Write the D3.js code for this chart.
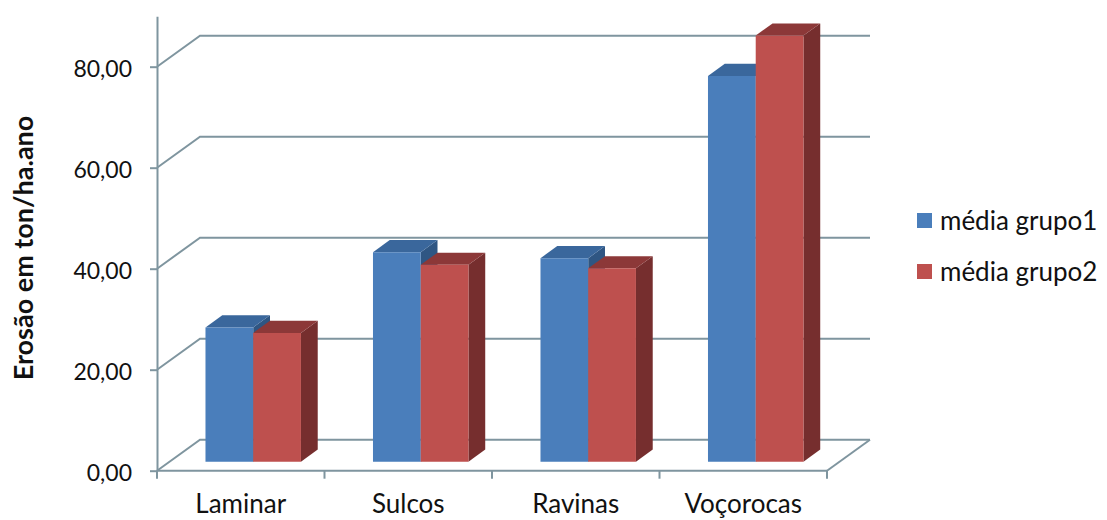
<!DOCTYPE html>
<html>
<head>
<meta charset="utf-8">
<script src="https://cdn.jsdelivr.net/npm/d3@7"></script>
<style>
  html, body { margin: 0; padding: 0; background: #ffffff; }
  svg { display: block; }
  text { font-family: Lato, "Open Sans", sans-serif; fill: #111; }
</style>
</head>
<body>
<svg id="chart" width="1107" height="520"></svg>
<script>
// Erosion averages per erosion type, two groups
const categories = ["Laminar", "Sulcos", "Ravinas", "Voçorocas"];
const seriesNames = ["média grupo1", "média grupo2"];
const grupo1 = [26.6, 41.5, 40.3, 76.4];
const grupo2 = [25.5, 39.0, 38.3, 84.4];
const yTicks = [0, 20, 40, 60, 80];
const yTitle = "Erosão em ton/ha.ano";

const seriesValues = [grupo1, grupo2];
const faceColors = [
  { front: "#4a7ebb", top: "#3a679c", side: "#2f5683" },
  { front: "#be504e", top: "#8c3838", side: "#762e2e" }
];
const gridColor = "#7f959f";

const svg = d3.select("#chart");

// front plane of the 3D box
const x = d3.scaleBand().domain(categories).range([157, 827]);
const y = d3.scaleLinear().domain([0, 90]).range([470.7, 16.2]);
// depth offset of the back wall
const DX = 43, DY = -31;
const proj = (px, py, t) => [px + DX * t, py + DY * t];

// bars occupy this slice of the depth
const tFront = 0.29, tBack = 0.68;
const bw = x.bandwidth();
const xs = d3.scaleBand().domain(seriesNames).range([bw * 0.215, bw * 0.785]);

const fmt = d3.formatLocale({ decimal: ",", thousands: ".", grouping: [3], currency: ["R$", ""] }).format(".2f");

// walls: back gridlines, side-wall diagonals, floor edge
const walls = svg.append("g").attr("stroke", gridColor).attr("stroke-width", 2).attr("fill", "none");
yTicks.forEach(v => {
  const a = [x.range()[0], y(v)];
  const b = proj(x.range()[0], y(v), 1);
  const c = proj(x.range()[1], y(v), 1);
  walls.append("path").attr("d", d3.line()([a, b, c]));
});
walls.append("path").attr("d", d3.line()([[x.range()[1], y(0)], proj(x.range()[1], y(0), 1)]));

// bars
const bars = svg.append("g");
categories.forEach((cat, ci) => {
  seriesNames.forEach((s, si) => {
    const v = seriesValues[si][ci];
    const xa = x(cat) + xs(s), xb = xa + xs.bandwidth();
    const fBL = proj(xa, y(0), tFront), fBR = proj(xb, y(0), tFront);
    const fTL = proj(xa, y(v), tFront), fTR = proj(xb, y(v), tFront);
    const bTL = proj(xa, y(v), tBack), bTR = proj(xb, y(v), tBack);
    const bBR = proj(xb, y(0), tBack);
    const col = faceColors[si];
    bars.append("path").attr("d", d3.line()([fTR, bTR, bBR, fBR]) + "Z").attr("fill", col.side);
    bars.append("path").attr("d", d3.line()([fTL, fTR, bTR, bTL]) + "Z").attr("fill", col.top);
    bars.append("path").attr("d", d3.line()([fBL, fTL, fTR, fBR]) + "Z").attr("fill", col.front);
  });
});

// value axis
const yAxis = d3.axisLeft(y).tickValues(yTicks).tickFormat(fmt).tickSize(7).tickSizeOuter(0).tickPadding(18);
const gy = svg.append("g").attr("transform", `translate(${x.range()[0]},0)`).call(yAxis);
gy.select(".domain").attr("stroke", gridColor).attr("stroke-width", 2);
gy.selectAll(".tick line").attr("stroke", gridColor).attr("stroke-width", 2);
gy.selectAll(".tick text").attr("font-size", 23).attr("font-family", "Lato, sans-serif").attr("fill", "#111").attr("dy", "0.42em");

// category axis: front floor edge, ticks at band edges, labels centred
const gx = svg.append("g");
gx.append("line").attr("x1", x.range()[0]).attr("x2", x.range()[1]).attr("y1", y(0)).attr("y2", y(0))
  .attr("stroke", gridColor).attr("stroke-width", 2);
d3.range(categories.length + 1).forEach(i => {
  const xx = x.range()[0] + i * x.step();
  gx.append("line").attr("x1", xx).attr("x2", xx).attr("y1", y(0)).attr("y2", y(0) + 8)
    .attr("stroke", gridColor).attr("stroke-width", 2);
});
gx.selectAll("text.cat").data(categories).join("text").attr("class", "cat")
  .attr("x", d => x(d) + bw / 2).attr("y", 513).attr("text-anchor", "middle").attr("font-size", 26)
  .text(d => d);

// axis title
svg.append("text").attr("transform", "translate(33,248) rotate(-90)").attr("text-anchor", "middle")
  .attr("font-size", 27).attr("font-weight", "bold").text(yTitle);

// legend
const lg = svg.append("g").attr("transform", "translate(917,213)");
seriesNames.forEach((s, i) => {
  lg.append("rect").attr("x", 0).attr("y", i * 51).attr("width", 15).attr("height", 15).attr("fill", faceColors[i].front);
  lg.append("text").attr("x", 23).attr("y", i * 51 + 17).attr("font-size", 26).text(s);
});
</script>
</body>
</html>
